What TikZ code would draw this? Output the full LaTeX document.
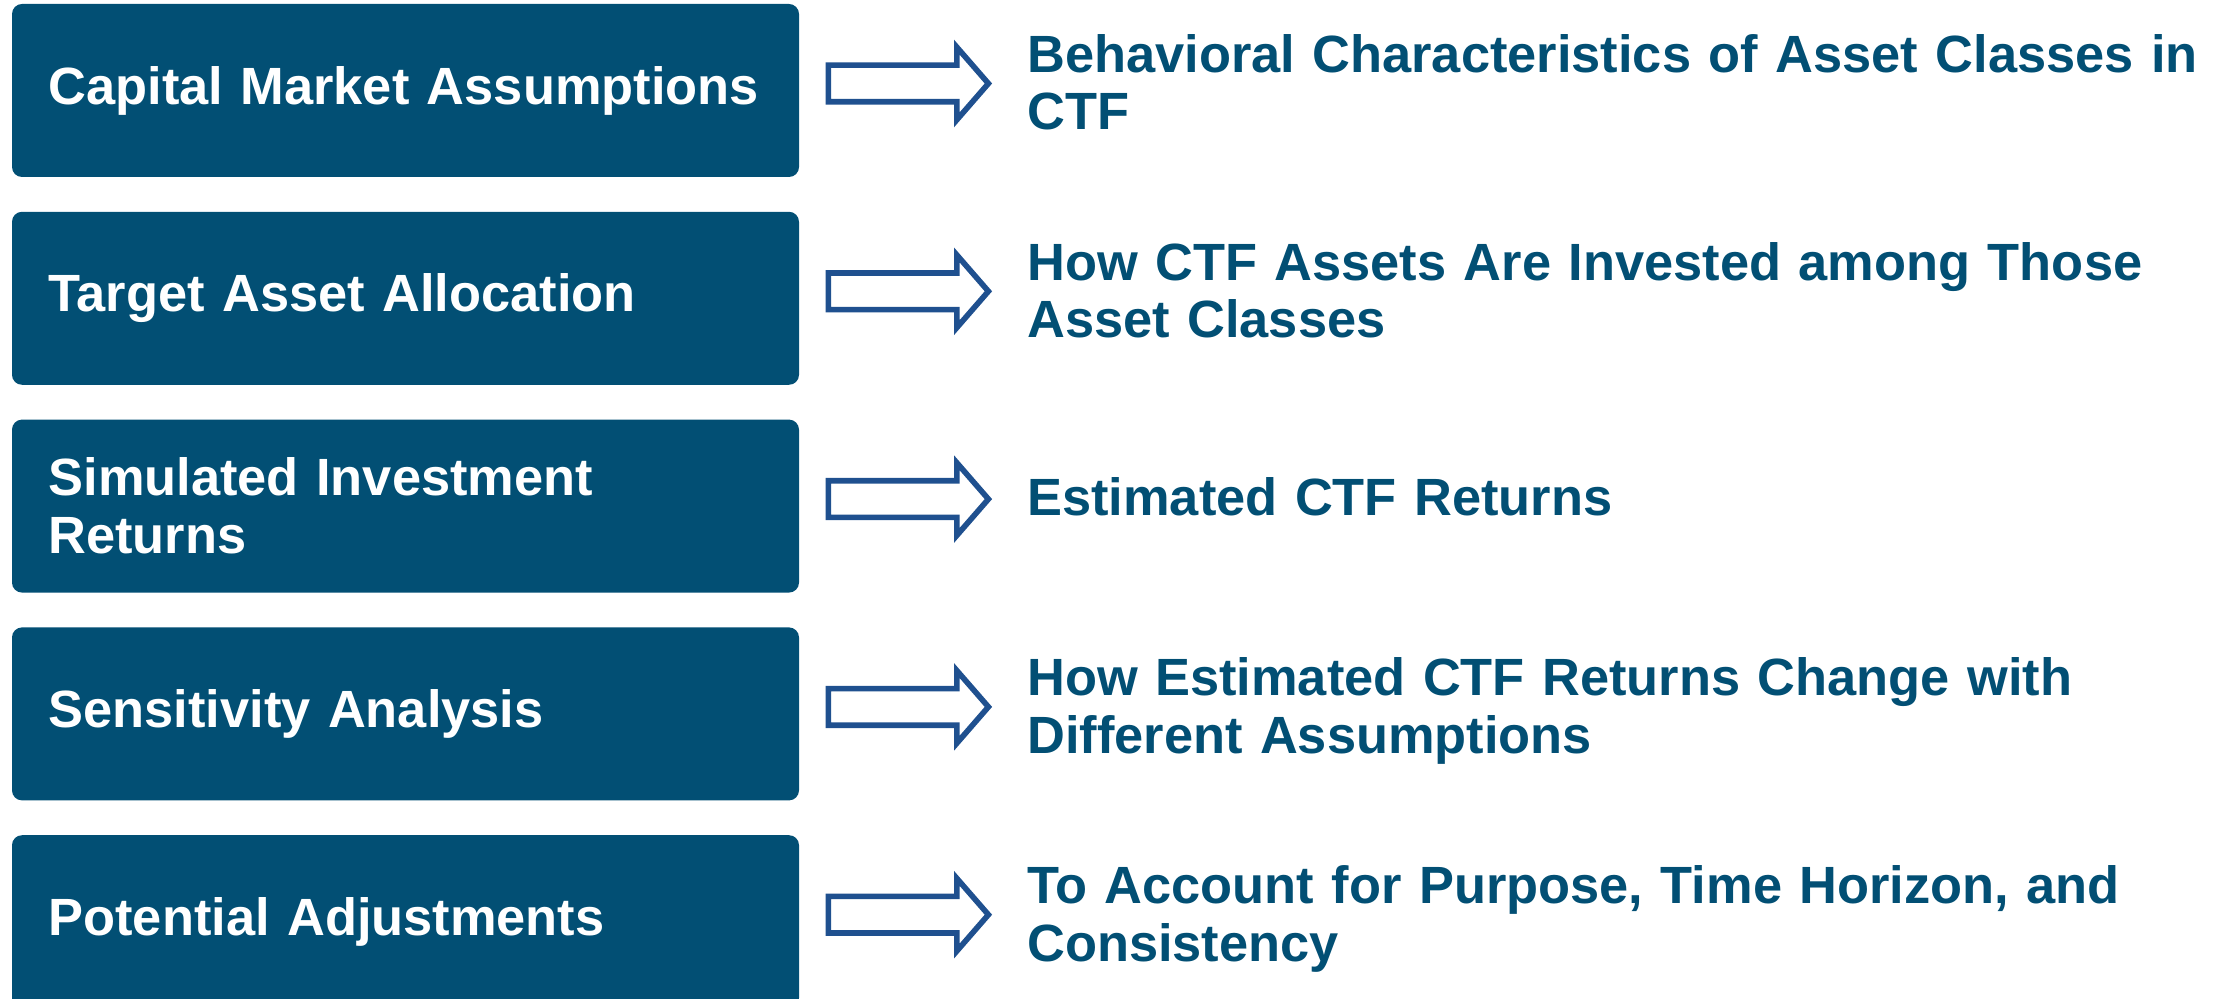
\documentclass[tikz,border=0pt]{standalone}
\usepackage{fontspec}
\setmainfont{Liberation Sans}
\usetikzlibrary{calc,positioning,shapes.arrows}
\definecolor{boxblue}{RGB}{2,79,116}
\definecolor{arrowblue}{RGB}{31,80,143}

\begin{document}
\begin{tikzpicture}[x=0.5pt,y=-0.5pt,node distance=17pt,
        stage/.style={rectangle, rounded corners=5pt, fill=boxblue, text=white,
            minimum width=393.5pt, minimum height=86.5pt, text width=357pt,
            inner xsep=18.25pt, align=left,
            font=\fontsize{26.2pt}{29pt}\selectfont\bfseries},
        flow/.style={single arrow, draw=arrowblue, fill=white, line width=2.8pt,
            single arrow tip angle=98, single arrow head extend=9pt,
            minimum height=80pt, inner sep=0pt, outer sep=0pt,
            text height=15.5pt, text depth=0pt, anchor=tail},
        result/.style={text=boxblue, text width=600pt, align=left, inner sep=0pt,
            anchor=base west, font=\fontsize{26.2pt}{28.75pt}\selectfont\bfseries}]
        \useasboundingbox (0,0) rectangle (2228,999);
        \node[stage] (cma) at (405.5,90.5) {Capital Market Assumptions};
        \node[stage, below=of cma] (taa) {Target Asset Allocation};
        \node[stage, below=of taa] (sir) {Simulated Investment\\Returns};
        \node[stage, below=of sir] (sa) {Sensitivity Analysis};
        \node[stage, below=of sa] (pa) {Potential Adjustments};
        \node[flow] (a_1) at ($(cma.east)+(14.5pt,3.5pt)$) {};
        \node[flow] (a_2) at ($(taa.east)+(14.5pt,3.5pt)$) {};
        \node[flow] (a_3) at ($(sir.east)+(14.5pt,3.5pt)$) {};
        \node[flow] (a_4) at ($(sa.east)+(14.5pt,3.5pt)$) {};
        \node[flow] (a_5) at ($(pa.east)+(14.5pt,3.5pt)$) {};
        \node[result] (r_1) at ($(a_1.tip)+(19.2pt,5.5pt)$) {Behavioral Characteristics of Asset Classes in\\CTF};
        \node[result] (r_2) at ($(a_2.tip)+(19.2pt,5.5pt)$) {How CTF Assets Are Invested among Those\\Asset Classes};
        \node[result] (r_3) at ($(a_3.tip)+(19.2pt,-8pt)$) {Estimated CTF Returns};
        \node[result] (r_4) at ($(a_4.tip)+(19.2pt,5.5pt)$) {How Estimated CTF Returns Change with\\Different Assumptions};
        \node[result] (r_5) at ($(a_5.tip)+(19.2pt,5.5pt)$) {To Account for Purpose, Time Horizon, and\\Consistency};
    \end{tikzpicture}
\end{document}
